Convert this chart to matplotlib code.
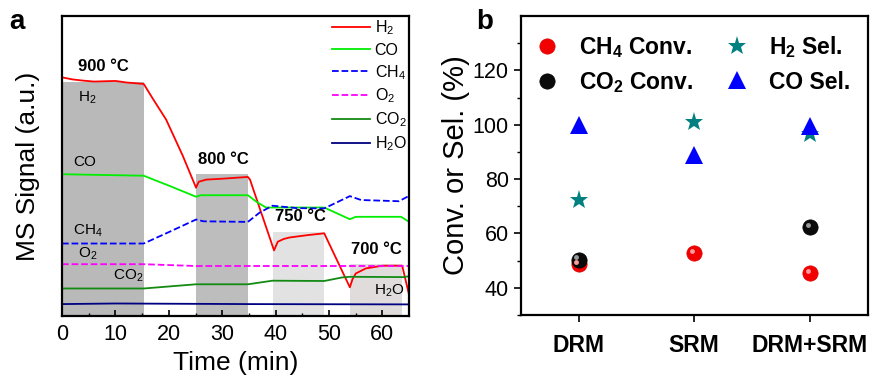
import numpy as np
import matplotlib
matplotlib.use('Agg')
import matplotlib.pyplot as plt
from matplotlib.transforms import ScaledTranslation

plt.rcParams['font.family'] = ['Liberation Sans', 'DejaVu Sans']
plt.rcParams['mathtext.default'] = 'regular'

# ---- panel a: MS signal vs time ----
h2_t = [0, 2, 4, 6, 8, 10, 12, 15.3, 17, 19.5, 22.6, 25.1, 25.6, 27, 30, 34.8,
        35.2, 39.7, 40.4, 41.5, 42.6, 46, 49.1, 53.9, 54.4, 55.0, 56.9, 60,
        63.7, 65]
h2 = [79.6, 78.9, 78.5, 78.2, 78.3, 78.4, 77.9, 77.4, 72.5, 65.5, 53.5, 42.8,
      44.8, 45.5, 45.8, 46.4, 45.5, 21.9, 24.8, 25.7, 26.2, 27.0, 27.6, 9.6,
      12.3, 14.2, 15.9, 16.8, 16.8, 7.0]
co_t = [0, 15.3, 20, 25.1, 26, 34.8, 36.5, 38.2, 40, 49.1, 53.9, 55, 63.5, 65]
co = [47.3, 46.8, 43.5, 39.8, 40.3, 40.3, 38.0, 36.2, 36.2, 36.2, 32.3, 33.1,
      33.1, 31.4]
ch4_t = [0, 15.3, 20, 25.1, 26.5, 34.8, 37, 39.4, 44, 49.1, 53.9, 56, 63.1, 65]
ch4 = [24.2, 24.2, 28.0, 32.2, 31.6, 31.4, 34.5, 36.8, 36.0, 35.9, 40.0, 38.7,
       38.3, 40.1]
o2_t = [0, 15.3, 25, 65]
o2 = [17.3, 17.3, 16.7, 16.7]
co2_t = [0, 15.3, 25.1, 34.8, 39.4, 49.1, 52.5, 53.9, 64, 65]
co2 = [9.2, 9.2, 10.6, 10.6, 11.8, 11.7, 12.9, 13.1, 13.0, 13.3]
h2o_t = [0, 10, 35, 65]
h2o = [4.0, 4.2, 4.0, 3.9]

# isothermal windows: start, end, top of shading
win_start = [0, 25.1, 39.6, 53.9]
win_end = [15.3, 34.8, 49.1, 63.7]
win_top = [78.1, 47.3, 28.1, 17.3]
win_color = ['#b9b9b9', '#bdbdbd', '#e2e2e2', '#e1dcdc']
temp_labels = ['900 °C', '800 °C', '750 °C', '700 °C']

# ---- panel b: conversion / selectivity ----
processes = ['DRM', 'SRM', 'DRM+SRM']
ch4_conv = [48.8, 52.7, 45.5]
co2_conv = [50.4, np.nan, 62.4]
h2_sel = [72.2, 101.0, 96.6]
co_sel = [100.0, 89.0, 99.5]

fig = plt.figure(figsize=(8.81, 3.85), dpi=100)

# panel a
ax = fig.add_axes([0.0704, 0.179, 0.394, 0.779])
widths = np.array(win_end) - np.array(win_start)
ax.bar(win_start, win_top, width=widths, align='edge', color=win_color,
       linewidth=0, zorder=0)
ax.plot(h2_t, h2, color='#ff0000', lw=1.3, label='H$_2$')
ax.plot(co_t, co, color='#00ee00', lw=1.3, label='CO')
ax.plot(ch4_t, ch4, color='#0000ff', lw=1.3, ls='--', label='CH$_4$')
ax.plot(o2_t, o2, color='#ff00ff', lw=1.3, ls='--', label='O$_2$')
ax.plot(co2_t, co2, color='#138a13', lw=1.3, label='CO$_2$')
ax.plot(h2o_t, h2o, color='#000080', lw=1.3, label='H$_2$O')

for x0, top, txt in zip(win_start, win_top, temp_labels):
    ax.text(x0 + 0.3 if x0 > 0 else 3.0, top + 2.5, txt, fontsize=12,
            fontweight='bold', va='bottom', ha='left')

ax.text(3.0, 72.9, 'H$_2$', fontsize=11, va='center')
ax.text(2.1, 51.4, 'CO', fontsize=11, va='center')
ax.text(2.1, 28.4, 'CH$_4$', fontsize=11, va='center')
ax.text(3.0, 20.7, 'O$_2$', fontsize=11, va='center')
ax.text(9.5, 13.3, 'CO$_2$', fontsize=11, va='center')
ax.text(58.4, 8.4, 'H$_2$O', fontsize=11, va='center')

ax.set_xlim(0, 65)
ax.set_ylim(0, 100)
ax.set_xticks(np.arange(0, 61, 10))
ax.set_xticks(np.arange(5, 65, 10), minor=True)
ax.set_yticks([])
ax.tick_params(axis='x', direction='in', labelsize=15.5, length=4, width=1.2,
               pad=6)
ax.tick_params(axis='x', which='minor', direction='in', length=2.5, width=1)
for s in ax.spines.values():
    s.set_linewidth(1.6)
ax.set_xlabel('Time (min)', fontsize=19, labelpad=4)
ax.set_ylabel('MS Signal (a.u.)', fontsize=19, labelpad=16)
ax.legend(loc='upper right', bbox_to_anchor=(1.0, 1.0), frameon=False,
          fontsize=11.5, handlelength=2.4, handletextpad=0.3,
          labelspacing=0.33, borderaxespad=0.0, borderpad=0.15)
fig.text(0.01, 0.925, 'a', fontsize=20, fontweight='bold')

# panel b
bx = fig.add_axes([0.591, 0.182, 0.394, 0.776])
xi = np.arange(len(processes))
hl = ScaledTranslation(-1.5 / 72, 1.5 / 72, fig.dpi_scale_trans)

bx.plot(xi, ch4_conv, 'o', color='#f20000', ms=11, mec='#e00000', mew=0.5,
        ls='none', label='CH$_4$ Conv.', zorder=3)
bx.plot(xi, ch4_conv, 'o', color='#ff9a9a', ms=3.5, mew=0, ls='none',
        transform=bx.transData + hl, zorder=4)
bx.plot(xi, co2_conv, 'o', color='#0a0a0a', ms=11, mec='black', mew=0.5,
        ls='none', label='CO$_2$ Conv.', zorder=3)
bx.plot(xi, co2_conv, 'o', color='#9a9a9a', ms=3.5, mew=0, ls='none',
        transform=bx.transData + hl, zorder=4)
bx.plot(xi, h2_sel, '*', color='#008080', ms=14, mew=0, ls='none',
        label='H$_2$ Sel.', zorder=2)
bx.plot(xi, co_sel, '^', color='#0000ff', ms=13, mew=0, ls='none',
        label='CO Sel.', zorder=3)

bx.set_xlim(-0.5, 2.5)
bx.set_ylim(30.3, 140)
bx.set_xticks(xi)
bx.set_xticklabels(processes, fontsize=16.5, fontweight='bold')
bx.set_yticks(np.arange(40, 121, 20))
bx.set_yticks(np.arange(30, 140, 10), minor=True)
bx.tick_params(axis='y', labelsize=15.5, length=5, width=1.2)
bx.tick_params(axis='y', which='minor', length=3, width=1)
bx.tick_params(axis='x', length=5, width=1.2, pad=9)
for s in bx.spines.values():
    s.set_linewidth(1.6)
bx.set_ylabel('Conv. or Sel. (%)', fontsize=21, labelpad=2)
bx.legend(loc='upper left', bbox_to_anchor=(0.009, 0.97), ncol=2,
          frameon=False, prop={'size': 16.5, 'weight': 'bold'},
          handletextpad=0.8, columnspacing=1.3, labelspacing=0.45,
          borderaxespad=0.0, handlelength=1.2)
fig.text(0.541, 0.925, 'b', fontsize=20, fontweight='bold')

fig.savefig('out.png', dpi=100)
